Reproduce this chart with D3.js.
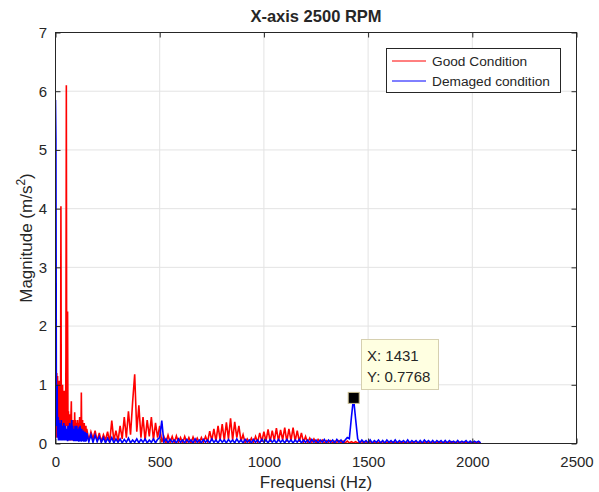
<!DOCTYPE html>
<html>
<head>
<meta charset="utf-8">
<script src="https://cdn.jsdelivr.net/npm/d3@7"></script>
<style>
  body { margin: 0; background: #fff; }
  text { font-family: "Liberation Sans", Arial, Helvetica, sans-serif; fill: #262626; }
</style>
</head>
<body>
<svg id="chart" width="599" height="492"></svg>
<script>
// spectrum bins: low part every 2 Hz (0..148), rest every 10 Hz (150..2040)
lowStep = 2
highStart = 150
highStep = 10

goodLow = [0.35, 0.9, 0.1, 1.2, 0.2, 1.15, 0.15, 0.8, 0.1, 1.07,
    0.2, 0.85, 0.1, 4.04, 0.3, 0.9, 0.1, 1.0, 0.15, 0.7,
    0.1, 0.9, 0.2, 0.75, 0.1, 1.5, 6.1, 0.3, 0.8, 2.25,
    0.1, 0.55, 0.05, 0.45, 0.1, 0.5, 0.05, 0.45, 0.72, 0.1,
    0.4, 0.05, 0.35, 0.1, 0.4, 0.05, 0.53, 0.1, 0.4, 0.05,
    0.35, 0.08, 0.3, 0.4, 0.05, 0.35, 0.1, 0.3, 0.45, 0.05,
    0.35, 0.1, 0.87, 0.05, 0.25, 0.4, 0.05, 0.3, 0.1, 0.35,
    0.05, 0.25, 0.1, 0.3, 0.05]

goodHigh = [0.25, 0.05, 0.2, 0.08, 0.22, 0.04,
    0.18, 0.03, 0.15, 0.06, 0.2, 0.02, 0.39, 0.05, 0.22, 0.04,
    0.3, 0.08, 0.45, 0.1, 0.55, 0.15, 0.7, 1.18, 0.2, 0.65,
    0.1, 0.45, 0.05, 0.4, 0.12, 0.45, 0.06, 0.35, 0.1, 0.3,
    0.02, 0.12, 0.01, 0.14, 0.02, 0.12, 0.01, 0.13, 0.02, 0.1,
    0.01, 0.12, 0.02, 0.1, 0.01, 0.11, 0.02, 0.09, 0.01, 0.1,
    0.02, 0.12, 0.03, 0.21, 0.05, 0.25, 0.04, 0.3, 0.06, 0.33,
    0.05, 0.36, 0.08, 0.43, 0.06, 0.37, 0.1, 0.3, 0.04, 0.15,
    0.01, 0.08, 0.02, 0.09, 0.01, 0.12, 0.02, 0.18, 0.03, 0.2,
    0.04, 0.24, 0.03, 0.22, 0.05, 0.26, 0.04, 0.23, 0.06, 0.27,
    0.03, 0.25, 0.05, 0.27, 0.04, 0.22, 0.03, 0.18, 0.02, 0.12,
    0.01, 0.09, 0.02, 0.08, 0.01, 0.07, 0.02, 0.06, 0.01, 0.05,
    0.02, 0.05, 0.01, 0.04, 0.02, 0.05, 0.01, 0.04, 0.01, 0.04,
    0.01, 0.03, 0.01, 0.03, 0.01, 0.02, 0.03, 0.01, 0.03, 0.01,
    0.03, 0.01, 0.02, 0.03, 0.01, 0.02, 0.03, 0.01, 0.02, 0.01,
    0.02, 0.03, 0.01, 0.02, 0.01, 0.03, 0.01, 0.02, 0.01, 0.02,
    0.01, 0.02, 0.03, 0.01, 0.02, 0.01, 0.02, 0.03, 0.01, 0.02,
    0.01, 0.02, 0.01, 0.03, 0.01, 0.02, 0.01, 0.02, 0.01, 0.03,
    0.01, 0.02, 0.01, 0.02, 0.03, 0.01, 0.02, 0.01, 0.02, 0.01,
    0.02, 0.01, 0.02, 0.01]

badLow = [5.85, 5.2, 1.25, 0.3, 1.0, 0.1, 0.45, 0.05, 0.4, 0.1,
    0.35, 0.05, 0.3, 0.1, 0.4, 0.05, 0.3, 0.05, 0.25, 0.1,
    0.35, 0.05, 0.2, 0.08, 0.3, 0.05, 0.25, 0.05, 0.2, 0.04,
    0.3, 0.05, 0.25, 0.05, 0.35, 0.08, 0.3, 0.05, 0.25, 0.4,
    0.05, 0.3, 0.05, 0.2, 0.04, 0.25, 0.05, 0.3, 0.04, 0.2,
    0.05, 0.3, 0.04, 0.25, 0.05, 0.2, 0.03, 0.28, 0.04, 0.3,
    0.05, 0.2, 0.03, 0.25, 0.04, 0.2, 0.05, 0.22, 0.03, 0.18,
    0.04, 0.2, 0.03, 0.15, 0.04]

badHigh = [0.18, 0.03, 0.15, 0.02, 0.14, 0.03,
    0.12, 0.02, 0.1, 0.01, 0.09, 0.02, 0.1, 0.01, 0.08, 0.02,
    0.08, 0.01, 0.07, 0.02, 0.09, 0.01, 0.06, 0.02, 0.08, 0.01,
    0.07, 0.02, 0.08, 0.01, 0.06, 0.02, 0.08, 0.01, 0.07, 0.1,
    0.39, 0.02, 0.08, 0.01, 0.07, 0.02, 0.06, 0.01, 0.08, 0.02,
    0.06, 0.01, 0.07, 0.02, 0.06, 0.01, 0.08, 0.02, 0.06, 0.01,
    0.07, 0.02, 0.06, 0.01, 0.08, 0.02, 0.06, 0.01, 0.07, 0.02,
    0.06, 0.01, 0.07, 0.02, 0.06, 0.01, 0.08, 0.02, 0.06, 0.01,
    0.07, 0.02, 0.06, 0.01, 0.07, 0.02, 0.06, 0.01, 0.07, 0.02,
    0.06, 0.01, 0.07, 0.02, 0.06, 0.01, 0.07, 0.02, 0.06, 0.01,
    0.07, 0.02, 0.06, 0.01, 0.06, 0.02, 0.07, 0.01, 0.06, 0.02,
    0.06, 0.01, 0.07, 0.02, 0.06, 0.01, 0.06, 0.02, 0.07, 0.01,
    0.06, 0.02, 0.06, 0.01, 0.07, 0.02, 0.06, 0.01, 0.06, 0.1,
    0.08, 0.45, 0.7768, 0.42, 0.08, 0.01, 0.06, 0.02, 0.05, 0.01,
    0.06, 0.01, 0.05, 0.02, 0.06, 0.01, 0.05, 0.01, 0.06, 0.02,
    0.05, 0.01, 0.06, 0.01, 0.05, 0.02, 0.05, 0.01, 0.06, 0.01,
    0.05, 0.02, 0.05, 0.01, 0.05, 0.01, 0.06, 0.02, 0.05, 0.01,
    0.05, 0.01, 0.05, 0.02, 0.05, 0.01, 0.05, 0.01, 0.05, 0.02,
    0.04, 0.01, 0.05, 0.01, 0.04, 0.02, 0.05, 0.01, 0.04, 0.01,
    0.04, 0.02, 0.04, 0.01]

xTicks = [0, 500, 1000, 1500, 2000, 2500]
yTicks = [0, 1, 2, 3, 4, 5, 6, 7]
seriesNames = ["Good Condition", "Demaged condition"]
seriesColors = ["#ff0000", "#0000ff"]
tipX = 1431
tipY = 0.7768

function toPoints(low, high) {
    pts = low.map(function(v, i) { return [i * lowStep, v]; })
    high.forEach(function(v, i) { pts.push([highStart + i * highStep, v]); })
    return pts
}

svg = d3.select('#chart')

x = d3.scaleLinear().domain([0, 2500]).range([55.5, 576.5])
y = d3.scaleLinear().domain([0, 7]).range([443.5, 32.5])

// grid
svg.append('g').selectAll('line.gx')
    .data(xTicks.slice(1, -1)).enter().append('line')
    .attr('x1', d => x(d)).attr('x2', d => x(d))
    .attr('y1', y(0)).attr('y2', y(7))
    .attr('stroke', '#e3e3e3')
svg.append('g').selectAll('line.gy')
    .data(yTicks.slice(1, -1)).enter().append('line')
    .attr('x1', x(0)).attr('x2', x(2500))
    .attr('y1', d => y(d)).attr('y2', d => y(d))
    .attr('stroke', '#e3e3e3')

svg.append('clipPath').attr('id', 'clip')
    .append('rect').attr('x', 55.5).attr('y', 32.5).attr('width', 521).attr('height', 411)

line = d3.line().x(d => x(d[0])).y(d => y(d[1]))

// dense spectra: a slightly heavier stroke fills in the bands like the original
plot = svg.append('g').attr('clip-path', 'url(#clip)')
plot.append('path').datum(toPoints(goodLow, goodHigh))
    .attr('d', line).attr('fill', 'none')
    .attr('stroke', seriesColors[0]).attr('stroke-width', 1.6)
plot.append('path').datum(toPoints(badLow, badHigh))
    .attr('d', line).attr('fill', 'none')
    .attr('stroke', seriesColors[1]).attr('stroke-width', 1.6)

// axes, ticks pointing inward on all four sides
function styleAxis(g) {
    g.select('.domain').remove()
    g.selectAll('.tick line').attr('stroke', '#262626')
    g.selectAll('.tick text').attr('fill', '#262626')
        .style('font-size', '15px')
        .style('font-family', '"Liberation Sans", Arial, sans-serif')
}
fmt = d3.format('d')
svg.append('g').attr('transform', 'translate(0,443.5)')
    .call(d3.axisBottom(x).tickValues(xTicks).tickFormat(fmt).tickSize(-5).tickPadding(12.5))
    .call(styleAxis)
svg.append('g').attr('transform', 'translate(0,32.5)')
    .call(d3.axisTop(x).tickValues(xTicks).tickSize(-5).tickFormat(''))
    .call(styleAxis)
svg.append('g').attr('transform', 'translate(55.5,0)')
    .call(d3.axisLeft(y).tickValues(yTicks).tickFormat(fmt).tickSize(-5).tickPadding(8.5))
    .call(styleAxis)
svg.append('g').attr('transform', 'translate(576.5,0)')
    .call(d3.axisRight(y).tickValues(yTicks).tickSize(-5).tickFormat(''))
    .call(styleAxis)

svg.append('rect')
    .attr('x', 55.5).attr('y', 32.5).attr('width', 521).attr('height', 411)
    .attr('fill', 'none').attr('stroke', '#262626')

// title and labels
svg.append('text').attr('x', 316).attr('y', 22)
    .attr('text-anchor', 'middle')
    .style('font-size', '16.5px').style('font-weight', 'bold')
    .text('X-axis 2500 RPM')
svg.append('text').attr('x', 316).attr('y', 488)
    .attr('text-anchor', 'middle')
    .style('font-size', '17px')
    .text('Frequensi (Hz)')
ylab = svg.append('text')
    .attr('transform', 'translate(32,238) rotate(-90)')
    .attr('text-anchor', 'middle')
    .style('font-size', '17px')
ylab.append('tspan').text('Magnitude (m/s')
ylab.append('tspan').attr('dy', -7).style('font-size', '12px').text('2')
ylab.append('tspan').attr('dy', 7).text(')')

// legend
legend = svg.append('g')
legend.append('rect')
    .attr('x', 386.5).attr('y', 48.5).attr('width', 174).attr('height', 44)
    .attr('fill', '#fff').attr('stroke', '#262626')
seriesNames.forEach(function(name, i) {
    legend.append('line')
        .attr('x1', 392).attr('x2', 426)
        .attr('y1', 61 + i * 20).attr('y2', 61 + i * 20)
        .attr('stroke', seriesColors[i])
    legend.append('text')
        .attr('x', 432).attr('y', 61 + i * 20).attr('dy', '0.35em')
        .style('font-size', '13.7px')
        .text(name)
})

// data tip
svg.append('rect')
    .attr('x', x(tipX) - 5.5).attr('y', y(tipY) - 5.5)
    .attr('width', 11).attr('height', 11)
    .attr('fill', '#000').attr('stroke', '#c9bd8f')
tip = svg.append('g')
tip.append('rect')
    .attr('x', 361.5).attr('y', 339.5).attr('width', 77).attr('height', 50)
    .attr('fill', '#ffffe1').attr('stroke', '#d6d0b0')
tip.append('text').attr('x', 367).attr('y', 360.5)
    .style('font-size', '15px').text('X: ' + tipX)
tip.append('text').attr('x', 367).attr('y', 381.5)
    .style('font-size', '15px').text('Y: ' + tipY)
</script>
</body>
</html>
